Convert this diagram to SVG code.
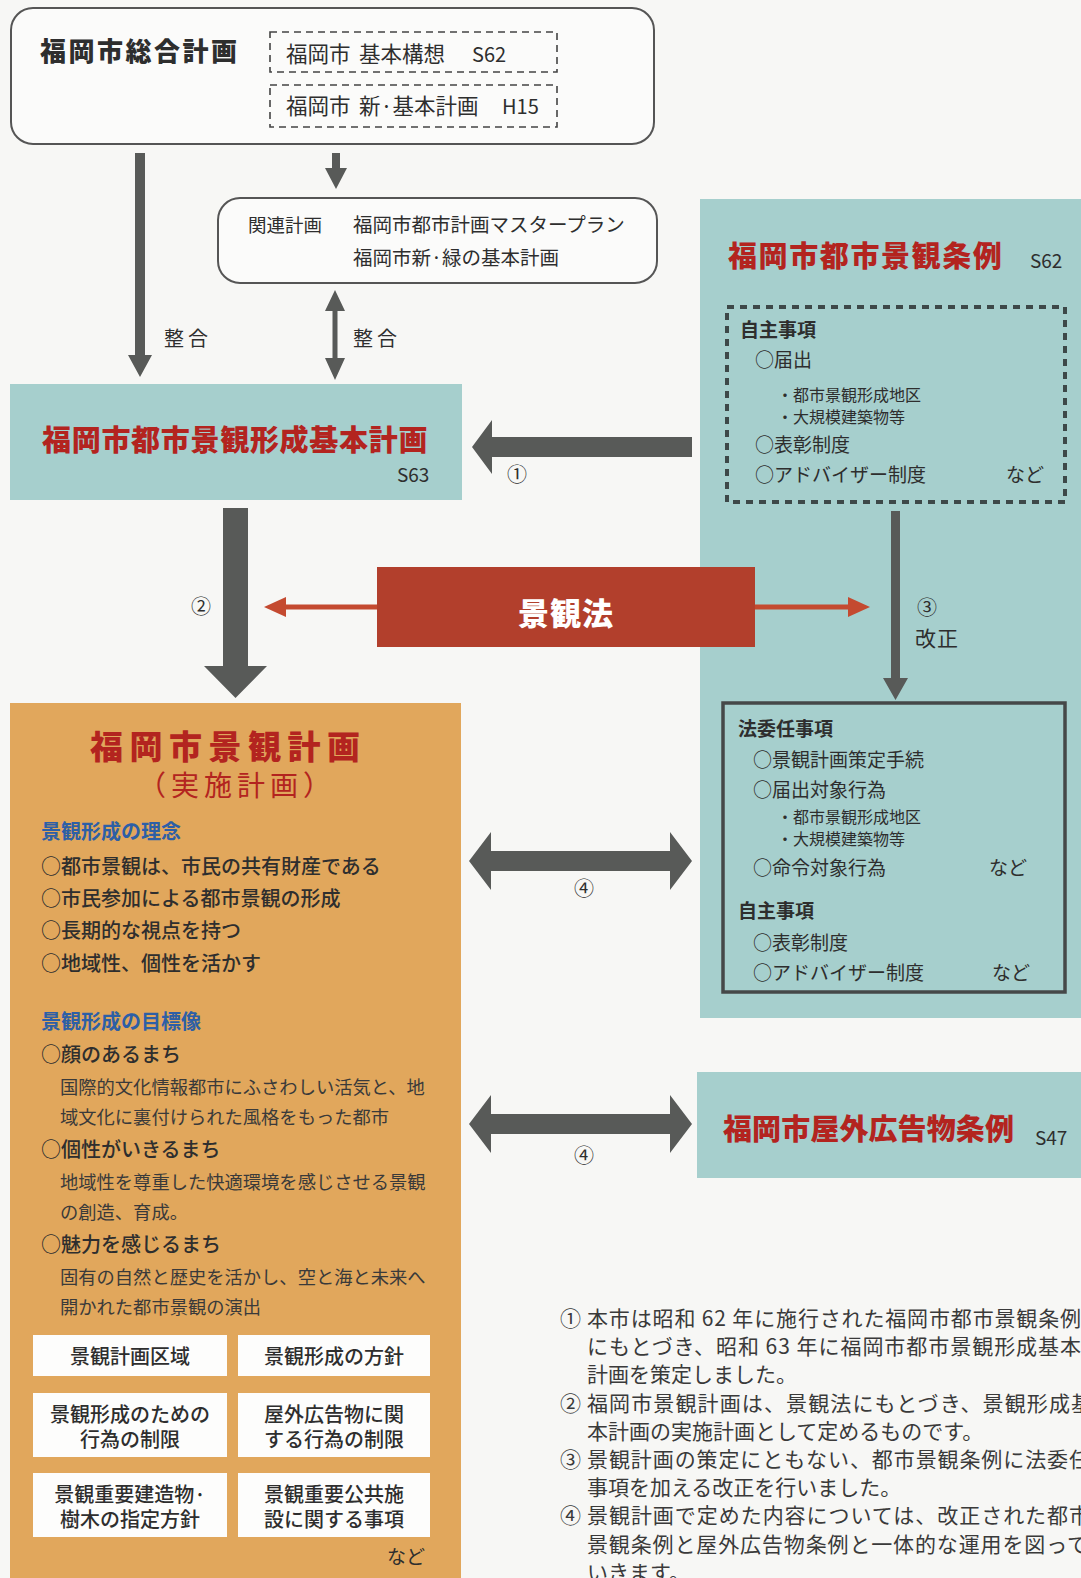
<svg xmlns="http://www.w3.org/2000/svg" width="1081" height="1578" viewBox="0 0 1081 1578">
<style>
text{font-family:'Noto Sans CJK JP','Noto Sans CJK SC',sans-serif;fill:#2e2e2e}
.b{font-weight:700}
.k{font-weight:900}
.m{font-weight:500}
.red{fill:#b3241f;font-weight:900}
.blue{fill:#2d5fa6;font-weight:700}
.teal{fill:#a6cfcd}
.orange{fill:#e1a75c}
.arrow{fill:#585a58}
.redarrow{fill:#c44a30}
.rbox{fill:#fbfbfa;stroke:#555;stroke-width:2}
.dash{fill:none;stroke:#444;stroke-width:1.6;stroke-dasharray:7 5}
.dots{fill:none;stroke:#3d4848;stroke-width:4;stroke-dasharray:7 6}
.wbox{fill:#fdfdfc}
.note{fill:#3a3a3a;font-size:21px}
.s20{font-size:20px}
.s19{font-size:19px}
.s16{font-size:16px}
</style>
<rect width="1081" height="1578" fill="#f7f7f5"/>

<g id="sogo">
<rect class="rbox" x="11" y="8" width="643" height="136" rx="22"/>
<text class="k" x="40" y="61" font-size="26" letter-spacing="2.5">福岡市総合計画</text>
<rect class="dash" x="270" y="32" width="287" height="40"/>
<text x="286" y="62" font-size="21.5">福岡市</text>
<text x="359" y="62" font-size="21.5">基本構想</text>
<text x="472" y="62" class="s20">S62</text>
<rect class="dash" x="270" y="85" width="287" height="42"/>
<text x="286" y="114" font-size="21.5">福岡市</text>
<text x="359" y="114" font-size="21.5">新·基本計画</text>
<text x="502" y="114" class="s20">H15</text>
</g>

<g id="kanren">
<rect class="rbox" x="218" y="198" width="439" height="85" rx="22"/>
<text x="248" y="232" font-size="18.5">関連計画</text>
<text x="353" y="232" font-size="19.5">福岡市都市計画マスタープラン</text>
<text x="353" y="265" font-size="19.5">福岡市新·緑の基本計画</text>
</g>

<g id="kihon">
<rect class="teal" x="10" y="384" width="452" height="116"/>
<text class="red" x="42" y="451" font-size="29" letter-spacing="0.7">福岡市都市景観形成基本計画</text>
<text x="397" y="482" class="s19">S63</text>
</g>

<g id="jorei">
<rect class="teal" x="700" y="199" width="381" height="819"/>
<text class="red" x="728" y="267" font-size="29" letter-spacing="1.6">福岡市都市景観条例</text>
<text x="1030" y="268" class="s19">S62</text>
<rect class="dots" x="727" y="307" width="338" height="195"/>
<text class="b s19" x="740" y="337">自主事項</text>
<text class="s19" x="755" y="367">○届出</text>
<text class="s16" x="777" y="401">・都市景観形成地区</text>
<text class="s16" x="777" y="423">・大規模建築物等</text>
<text class="s19" x="755" y="452">○表彰制度</text>
<text class="s19" x="755" y="482">○アドバイザー制度</text>
<text class="s19" x="1006" y="482">など</text>
</g>

<g id="houinin">
<rect x="723" y="703" width="342" height="289" fill="none" stroke="#454848" stroke-width="3.5"/>
<text class="b s19" x="738" y="736">法委任事項</text>
<text class="s19" x="753" y="767">○景観計画策定手続</text>
<text class="s19" x="753" y="797">○届出対象行為</text>
<text class="s16" x="777" y="823">・都市景観形成地区</text>
<text class="s16" x="777" y="845">・大規模建築物等</text>
<text class="s19" x="753" y="875">○命令対象行為</text>
<text class="s19" x="989" y="875">など</text>
<text class="b s19" x="738" y="918">自主事項</text>
<text class="s19" x="753" y="950">○表彰制度</text>
<text class="s19" x="753" y="980">○アドバイザー制度</text>
<text class="s19" x="992" y="980">など</text>
</g>

<g id="keikanho">
<rect x="377" y="567" width="378" height="80" fill="#b23f2c"/>
<text class="k" x="566" y="625" font-size="31" letter-spacing="1" text-anchor="middle" style="fill:#fff">景観法</text>
</g>

<g id="keikaku">
<rect class="orange" x="10" y="703" width="451" height="875"/>
<text class="red" x="90" y="759" font-size="33" letter-spacing="6.5">福岡市景観計画</text>
<text x="138" y="796" font-size="28" letter-spacing="5" style="fill:#b3241f">（実施計画）</text>
<text class="blue s20" x="41" y="839">景観形成の理念</text>
<text class="m s20" x="41" y="874">○都市景観は、市民の共有財産である</text>
<text class="m s20" x="41" y="906">○市民参加による都市景観の形成</text>
<text class="m s20" x="41" y="938">○長期的な視点を持つ</text>
<text class="m s20" x="41" y="971">○地域性、個性を活かす</text>
<text class="blue s20" x="41" y="1029">景観形成の目標像</text>
<text class="m s20" x="41" y="1062">○顔のあるまち</text>
<text x="60" y="1094" font-size="18.3" style="fill:#3a3a3a">国際的文化情報都市にふさわしい活気と、地</text>
<text x="60" y="1124" font-size="18.3" style="fill:#3a3a3a">域文化に裏付けられた風格をもった都市</text>
<text class="m s20" x="41" y="1157">○個性がいきるまち</text>
<text x="60" y="1189" font-size="18.3" style="fill:#3a3a3a">地域性を尊重した快適環境を感じさせる景観</text>
<text x="60" y="1219" font-size="18.3" style="fill:#3a3a3a">の創造、育成。</text>
<text class="m s20" x="41" y="1252">○魅力を感じるまち</text>
<text x="60" y="1284" font-size="18.3" style="fill:#3a3a3a">固有の自然と歴史を活かし、空と海と未来へ</text>
<text x="60" y="1314" font-size="18.3" style="fill:#3a3a3a">開かれた都市景観の演出</text>
<rect class="wbox" x="33" y="1335" width="194" height="41"/>
<rect class="wbox" x="238" y="1335" width="192" height="41"/>
<rect class="wbox" x="33" y="1393" width="194" height="64"/>
<rect class="wbox" x="238" y="1393" width="192" height="64"/>
<rect class="wbox" x="33" y="1473" width="194" height="64"/>
<rect class="wbox" x="238" y="1473" width="192" height="64"/>
<g class="m s20" text-anchor="middle">
<text x="130" y="1364">景観計画区域</text>
<text x="334" y="1364">景観形成の方針</text>
<text x="130" y="1422">景観形成のための</text>
<text x="130" y="1447">行為の制限</text>
<text x="334" y="1422">屋外広告物に関</text>
<text x="334" y="1447">する行為の制限</text>
<text x="130" y="1502">景観重要建造物·</text>
<text x="130" y="1527">樹木の指定方針</text>
<text x="334" y="1502">景観重要公共施</text>
<text x="334" y="1527">設に関する事項</text>
</g>
<text class="s19" x="387" y="1564">など</text>
</g>

<g id="okugai">
<rect class="teal" x="697" y="1072" width="384" height="106"/>
<text class="red" x="723" y="1140" font-size="29" letter-spacing="0.1">福岡市屋外広告物条例</text>
<text x="1035" y="1145" class="s19">S47</text>
</g>

<g id="connectors">
<polygon class="arrow" points="135,153 145,153 145,355 152,355 140,377 128,355 135,355"/>
<polygon class="arrow" points="332,153 340,153 340,168 347,168 336,189 325,168 332,168"/>
<polygon class="arrow" points="335,290 345,311 337.5,311 337.5,358 345,358 335,380 325,358 332.5,358 332.5,311 325,311"/>
<polygon class="arrow" points="472,447 492,420 492,437 692,437 692,457 492,457 492,474"/>
<polygon class="arrow" points="223,508 248,508 248,666 267,666 235.5,698 204,666 223,666"/>
<polygon class="arrow" points="891,511 900,511 900,678 908,678 895.5,700 883,678 891,678"/>
<rect class="redarrow" x="282" y="604.5" width="95" height="5"/>
<polygon class="redarrow" points="264,607 286,597 286,617"/>
<rect class="redarrow" x="755" y="604.5" width="96" height="5"/>
<polygon class="redarrow" points="870,607 848,597 848,617"/>
<polygon class="arrow" points="469,861 491,832 491,851 670,851 670,832 692,861 670,890 670,871 491,871 491,890"/>
<polygon class="arrow" points="469,1124 491,1095 491,1114 670,1114 670,1095 692,1124 670,1153 670,1134 491,1134 491,1153"/>
<text x="164" y="346" class="s20" letter-spacing="4">整合</text>
<text x="353" y="346" class="s20" letter-spacing="4">整合</text>
<text x="517" y="482" class="s20" text-anchor="middle">①</text>
<text x="201" y="614" class="s20" text-anchor="middle">②</text>
<text x="927" y="615" class="s20" text-anchor="middle">③</text>
<text x="915" y="646" font-size="21" letter-spacing="1">改正</text>
<text x="584" y="896" class="s20" text-anchor="middle">④</text>
<text x="584" y="1163" class="s20" text-anchor="middle">④</text>
</g>

<g id="notes">
<text class="note" x="560" y="1326">①</text>
<text class="note" x="587" y="1326" textLength="494" lengthAdjust="spacing">本市は昭和 62 年に施行された福岡市都市景観条例</text>
<text class="note" x="587" y="1354" textLength="494" lengthAdjust="spacing">にもとづき、昭和 63 年に福岡市都市景観形成基本</text>
<text class="note" x="587" y="1382">計画を策定しました。</text>
<text class="note" x="560" y="1411">②</text>
<text class="note" x="587" y="1411" textLength="505" lengthAdjust="spacing">福岡市景観計画は、景観法にもとづき、景観形成基</text>
<text class="note" x="587" y="1439">本計画の実施計画として定めるものです。</text>
<text class="note" x="560" y="1467">③</text>
<text class="note" x="587" y="1467" textLength="503" lengthAdjust="spacing">景観計画の策定にともない、都市景観条例に法委任</text>
<text class="note" x="587" y="1495">事項を加える改正を行いました。</text>
<text class="note" x="560" y="1523">④</text>
<text class="note" x="587" y="1523" textLength="503" lengthAdjust="spacing">景観計画で定めた内容については、改正された都市</text>
<text class="note" x="587" y="1552" textLength="501" lengthAdjust="spacing">景観条例と屋外広告物条例と一体的な運用を図って</text>
<text class="note" x="587" y="1580">いきます。</text>
</g>
</svg>
